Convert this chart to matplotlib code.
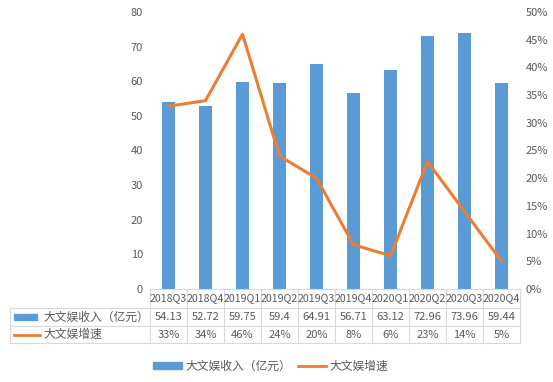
import numpy as np
import matplotlib.pyplot as plt
from matplotlib.lines import Line2D
from matplotlib.patches import Rectangle

plt.rcParams['font.family'] = ['Noto Sans CJK SC', 'DejaVu Sans']

# data
quarters = ['2018Q3', '2018Q4', '2019Q1', '2019Q2', '2019Q3',
            '2019Q4', '2020Q1', '2020Q2', '2020Q3', '2020Q4']
revenue = [54.13, 52.72, 59.75, 59.4, 64.91, 56.71, 63.12, 72.96, 73.96, 59.44]
growth = [33, 34, 46, 24, 20, 8, 6, 23, 14, 5]
rev_label = '大文娱收入（亿元）'
growth_label = '大文娱增速'

blue = '#5B9BD5'
orange = '#ED7D31'
txt = '#595959'
grid = '#D9D9D9'

W, H = 553, 382
fig = plt.figure(figsize=(W / 100, H / 100), dpi=100)

# plot area in pixels
x0, x1 = 150, 520
ytop, ybot = 12, 289
ax = fig.add_axes([x0 / W, 1 - ybot / H, (x1 - x0) / W, (ybot - ytop) / H])
ax2 = ax.twinx()

x = np.arange(len(quarters))
ax.bar(x, revenue, width=0.33, color=blue, zorder=2)
ax2.plot(x, growth, color=orange, lw=2.2, zorder=3)

ax.set_xlim(-0.5, len(quarters) - 0.5)
ax.set_ylim(0, 80)
ax.set_yticks(range(0, 81, 10))
ax2.set_ylim(0, 50)
ax2.set_yticks(range(0, 51, 5))
ax2.set_yticklabels([f'{v}%' for v in range(0, 51, 5)])
ax.set_xticks([])

for a in (ax, ax2):
    for s in a.spines.values():
        s.set_visible(False)
    a.tick_params(axis='y', length=0, labelsize=8, labelcolor=txt)
ax.tick_params(axis='y', pad=5)
ax2.tick_params(axis='y', pad=4)

# data table below the plot
def fx(px):
    return px / W

def fy(py):
    return 1 - py / H

cw = (x1 - x0) / len(quarters)
row_lines = [289, 308, 326, 343]
tleft = 10

# horizontal lines
fig.add_artist(Line2D([fx(x0), fx(x1)], [fy(row_lines[0])] * 2, color=grid, lw=0.8))
for r in row_lines[1:]:
    fig.add_artist(Line2D([fx(tleft), fx(x1)], [fy(r)] * 2, color=grid, lw=0.8))
# vertical lines
for i in range(len(quarters) + 1):
    xp = x0 + i * cw
    fig.add_artist(Line2D([fx(xp)] * 2, [fy(row_lines[0]), fy(row_lines[-1])], color=grid, lw=0.8))
fig.add_artist(Line2D([fx(tleft)] * 2, [fy(row_lines[1]), fy(row_lines[-1])], color=grid, lw=0.8))

for i, q in enumerate(quarters):
    cx = fx(x0 + (i + 0.5) * cw)
    fig.text(cx, fy((row_lines[0] + row_lines[1]) / 2), q, ha='center', va='center',
             fontsize=7.6, color=txt)
    fig.text(cx, fy((row_lines[1] + row_lines[2]) / 2), f'{revenue[i]:g}', ha='center',
             va='center', fontsize=8, color=txt)
    fig.text(cx, fy((row_lines[2] + row_lines[3]) / 2), f'{growth[i]}%', ha='center',
             va='center', fontsize=8, color=txt)

# row label keys
ym1 = (row_lines[1] + row_lines[2]) / 2
ym2 = (row_lines[2] + row_lines[3]) / 2
fig.add_artist(Rectangle((fx(14), fy(ym1 + 3)), fx(23), 6 / H, color=blue))
fig.add_artist(Line2D([fx(14), fx(40)], [fy(ym2)] * 2, color=orange, lw=2))
fig.text(fx(43), fy(ym1), rev_label, ha='left', va='center', fontsize=8.5, color=txt)
fig.text(fx(43), fy(ym2), growth_label, ha='left', va='center', fontsize=8.5, color=txt)

# legend at bottom
handles = [Rectangle((0, 0), 1, 1, color=blue),
           Line2D([0], [0], color=orange, lw=2)]
fig.legend(handles, [rev_label, growth_label], loc='center', ncol=2,
           bbox_to_anchor=(0.49, fy(366)), frameon=False, fontsize=8.5,
           labelcolor=txt, handlelength=2.4, handleheight=0.5, columnspacing=0.6,
           handletextpad=0.3)

fig.savefig('out.png', dpi=100)
